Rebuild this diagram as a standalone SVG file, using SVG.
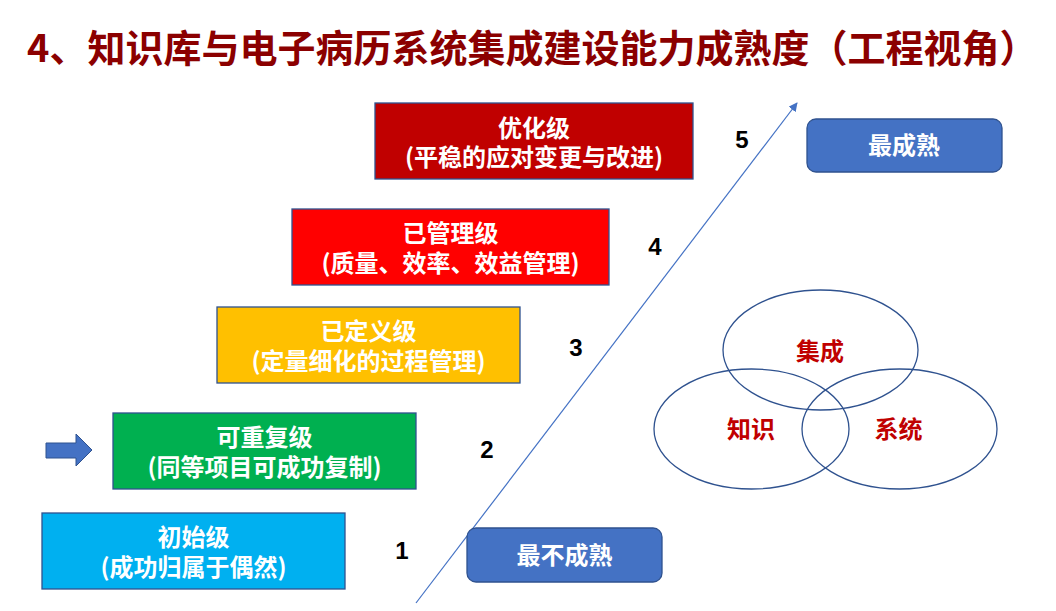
<svg xmlns="http://www.w3.org/2000/svg" width="1056" height="611" viewBox="0 0 1056 611">
<defs>
<style>
.cjk{font-family:"Noto Sans CJK SC","Liberation Sans",sans-serif;font-weight:bold}
.lvl rect{stroke:#2F528F;stroke-width:1.3}
.lvl text{fill:#FFFFFF;font-size:24px;text-anchor:middle}
.num{font-family:"Liberation Sans",Arial,sans-serif;font-weight:bold;font-size:24px;fill:#000000;text-anchor:middle}
.rbox rect{fill:#4472C4;stroke:#2F528F;stroke-width:1.3}
.rbox text{fill:#FFFFFF;font-size:24px;text-anchor:middle}
.venn ellipse{fill:none;stroke:#2F528F;stroke-width:1.3}
.venn text{fill:#C00000;font-size:24px;text-anchor:middle}
</style>
<marker id="ah" viewBox="0 0 10 10" refX="9" refY="5" markerWidth="9" markerHeight="9" markerUnits="userSpaceOnUse" orient="auto">
<path d="M0,0 L10,5 L0,10 z" fill="#4472C4"/>
</marker>
</defs>
<rect width="1056" height="611" fill="#FFFFFF"/>
<g id="title">
<text class="cjk" x="27" y="62" font-size="38" fill="#8B0000">4、知识库与电子病历系统集成建设能力成熟度（工程视角）</text>
</g>
<g id="connectors">
<line x1="416" y1="603" x2="797" y2="103" stroke="#4472C4" stroke-width="1.2" marker-end="url(#ah)"/>
</g>
<g id="level5" class="lvl cjk">
<rect x="375" y="103" width="318" height="76" fill="#C00000"/>
<text x="534" y="137">优化级</text>
<text x="534" y="166">(平稳的应对变更与改进)</text>
</g>
<g id="level4" class="lvl cjk">
<rect x="292" y="209" width="317" height="76" fill="#FF0000"/>
<text x="450.5" y="242">已管理级</text>
<text x="450.5" y="272">(质量、效率、效益管理)</text>
</g>
<g id="level3" class="lvl cjk">
<rect x="217" y="307" width="303" height="76" fill="#FFC000"/>
<text x="368.5" y="340">已定义级</text>
<text x="368.5" y="370">(定量细化的过程管理)</text>
</g>
<g id="level2" class="lvl cjk">
<rect x="113" y="413" width="303" height="76" fill="#00B050"/>
<text x="264.5" y="446">可重复级</text>
<text x="264.5" y="476">(同等项目可成功复制)</text>
</g>
<g id="level1" class="lvl cjk">
<rect x="42" y="513" width="303" height="76" fill="#00B0F0"/>
<text x="193.5" y="546">初始级</text>
<text x="193.5" y="576">(成功归属于偶然)</text>
</g>
<g id="numbers">
<text class="num" x="742" y="148">5</text>
<text class="num" x="655" y="255">4</text>
<text class="num" x="576" y="356">3</text>
<text class="num" x="487" y="458">2</text>
<text class="num" x="402" y="559">1</text>
</g>
<g id="most-mature" class="rbox cjk">
<rect x="807" y="119" width="195" height="53" rx="9"/>
<text x="904" y="154">最成熟</text>
</g>
<g id="least-mature" class="rbox cjk">
<rect x="467" y="528" width="195" height="54" rx="9"/>
<text x="564.5" y="564">最不成熟</text>
</g>
<g id="current-marker">
<path d="M46,443 L76,443 L76,434 L92,450 L76,466 L76,458 L46,458 z" fill="#4472C4" stroke="#2F528F" stroke-width="1"/>
</g>
<g id="venn" class="venn cjk">
<ellipse cx="820.5" cy="350" rx="97.5" ry="60"/>
<ellipse cx="751.5" cy="429" rx="97.5" ry="60"/>
<ellipse cx="899.5" cy="429" rx="97.5" ry="60"/>
<text x="820" y="360">集成</text>
<text x="751" y="438">知识</text>
<text x="898.5" y="438">系统</text>
</g>
</svg>
